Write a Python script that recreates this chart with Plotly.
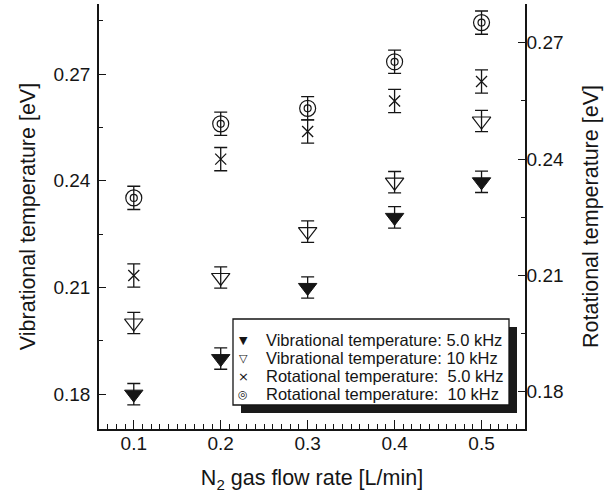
import plotly.graph_objects as go

# ---- data ----
flow_rate = [0.1, 0.2, 0.3, 0.4, 0.5]
vib_5k = [0.180, 0.190, 0.210, 0.2297, 0.2397]
vib_10k = [0.200, 0.2128, 0.2257, 0.2396, 0.2568]
rot_5k = [0.210, 0.240, 0.2471, 0.255, 0.260]
rot_10k = [0.230, 0.2491, 0.2531, 0.2651, 0.2752]
err_vib = [0.003, 0.003, 0.003, 0.003, 0.003]
err_rot = [0.003, 0.003, 0.003, 0.003, 0.003]

legend_symbols = ["▼", "▽", "×", "◎"]
legend_labels = [
    "Vibrational temperature: 5.0 kHz",
    "Vibrational temperature: 10 kHz",
    "Rotational temperature:  5.0 kHz",
    "Rotational temperature:  10 kHz",
]

INK = "#151515"
FONT = "Liberation Sans, Arial, sans-serif"

# plot-area pixel geometry (for converting layout positions)
L, R, T, B = 99, 525, 4, 429
W, H = 614, 493
X_RANGE = [0.06, 0.55]


def px_x(p):
    return (p - L) / (R - L)


def px_y(p):
    return (B - p) / (B - T)


def ebar(arr):
    return dict(type="data", array=arr, visible=True, color=INK,
                thickness=1.3, width=6.5)


fig = go.Figure()
fig.add_trace(go.Scatter(
    x=flow_rate, y=vib_5k, mode="markers", name=legend_labels[0],
    marker=dict(symbol="triangle-down", size=16, color=INK,
                line=dict(color=INK, width=1)),
    error_y=ebar(err_vib), showlegend=False))
fig.add_trace(go.Scatter(
    x=flow_rate, y=vib_10k, mode="markers", name=legend_labels[1],
    marker=dict(symbol="triangle-down-open", size=16, color=INK,
                line=dict(color=INK, width=1.2)),
    error_y=ebar(err_vib), showlegend=False))
fig.add_trace(go.Scatter(
    x=flow_rate, y=rot_5k, mode="markers", name=legend_labels[2],
    marker=dict(symbol="x-thin-open", size=11, color=INK,
                line=dict(color=INK, width=1.3)),
    error_y=ebar(err_rot), yaxis="y2", showlegend=False))
fig.add_trace(go.Scatter(
    x=flow_rate, y=rot_10k, mode="markers", name=legend_labels[3],
    marker=dict(symbol="circle-open", size=16, color=INK,
                line=dict(color=INK, width=1.2)),
    error_y=ebar(err_rot), yaxis="y2", showlegend=False))
fig.add_trace(go.Scatter(
    x=flow_rate, y=rot_10k, mode="markers", name=legend_labels[3],
    marker=dict(symbol="circle-open", size=7, color=INK,
                line=dict(color=INK, width=1.2)),
    yaxis="y2", showlegend=False, hoverinfo="skip"))

# legend box with drop shadow
bx0, by0, bx1, by1 = 233, 319, 509, 405
shadow = 8
fig.add_shape(type="rect", xref="paper", yref="paper",
              x0=px_x(bx0 + shadow), x1=px_x(bx1 + shadow),
              y0=px_y(by1 + shadow), y1=px_y(by0 + shadow),
              fillcolor="#1a1a1a", line=dict(width=0), layer="above")
fig.add_shape(type="rect", xref="paper", yref="paper",
              x0=px_x(bx0), x1=px_x(bx1), y0=px_y(by1), y1=px_y(by0),
              fillcolor="white", line=dict(color=INK, width=1.3), layer="above")

row_y = [340, 358, 376, 394]
sym_sizes = [11, 11, 13, 11]
for sym, lab, yy, ss in zip(legend_symbols, legend_labels, row_y, sym_sizes):
    fig.add_annotation(xref="paper", yref="paper", x=px_x(243), y=px_y(yy),
                       text=sym, showarrow=False, xanchor="center",
                       yanchor="middle",
                       font=dict(family="DejaVu Sans", size=ss, color=INK))
    fig.add_annotation(xref="paper", yref="paper", x=px_x(264), y=px_y(yy),
                       text=lab.replace("  ", "\u00a0 "), showarrow=False,
                       xanchor="left", yanchor="middle",
                       font=dict(family=FONT, size=16.5, color=INK))

axis_common = dict(
    showline=True, linecolor=INK, linewidth=1.5,
    ticks="inside", tickcolor=INK, tickwidth=1.2,
    showgrid=False, zeroline=False,
    tickfont=dict(family=FONT, size=19, color=INK),
)
x_minor = dict(dtick=0.01, tick0=0, ticks="inside", ticklen=5,
               tickcolor=INK, tickwidth=1)
x_ticks = [0.1, 0.2, 0.3, 0.4, 0.5]

fig.update_layout(
    width=W, height=H,
    margin=dict(l=L, r=W - R, t=T, b=H - B),
    paper_bgcolor="white", plot_bgcolor="white",
    showlegend=False,
    xaxis=dict(
        **axis_common,
        range=X_RANGE, tickvals=x_ticks,
        ticktext=["0.1", "0.2", "0.3", "0.4", "0.5"],
        ticklen=9, minor=x_minor,
        ticklabelstandoff=-4,
        title=dict(text="N<sub>2</sub> gas flow rate [L/min]",
                   font=dict(family=FONT, size=21.5, color=INK), standoff=20),
    ),
    xaxis2=dict(
        **axis_common,
        overlaying="x", side="top", anchor="y",
        range=X_RANGE, tickvals=x_ticks, showticklabels=False,
        ticklen=9, minor=x_minor,
    ),
    yaxis=dict(
        **axis_common,
        range=[0.1702, 0.2897], tickvals=[0.18, 0.21, 0.24, 0.27],
        ticktext=["0.18", "0.21", "0.24", "0.27"],
        ticklen=7,
        minor=dict(tickvals=[0.195, 0.225, 0.255, 0.285], ticks="inside",
                   ticklen=4, tickcolor=INK, tickwidth=1),
        ticklabelstandoff=3,
        title=dict(text="Vibrational temperature [eV]",
                   font=dict(family=FONT, size=21.5, color=INK), standoff=12),
    ),
    yaxis2=dict(
        **axis_common,
        overlaying="y", side="right",
        range=[0.1704, 0.28], tickvals=[0.18, 0.21, 0.24, 0.27],
        ticktext=["0.18", "0.21", "0.24", "0.27"],
        ticklen=7,
        minor=dict(tickvals=[0.195, 0.225, 0.255], ticks="inside",
                   ticklen=4, tickcolor=INK, tickwidth=1),
        ticklabelstandoff=-4,
        title=dict(text="Rotational temperature [eV]",
                   font=dict(family=FONT, size=21.5, color=INK), standoff=20),
    ),
)

fig.write_html("out.html",
               config={"displayModeBar": False},
               post_script="document.body.style.margin='0';"
                           "document.body.style.overflow='hidden';")
